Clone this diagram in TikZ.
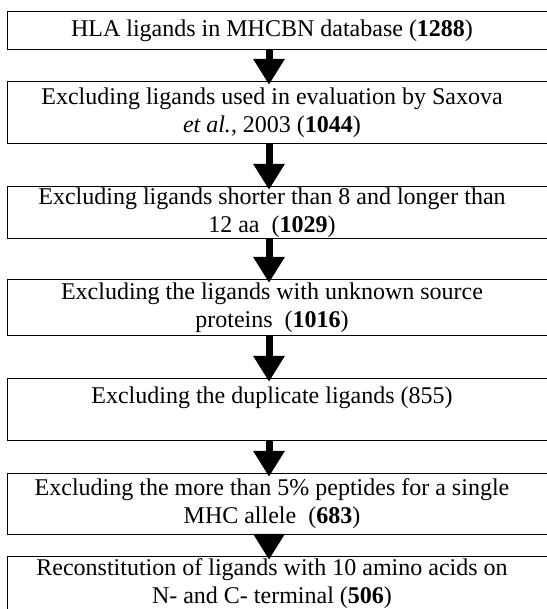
\documentclass[tikz,border=0pt]{standalone}
\usepackage{fontspec}
\setmainfont{Liberation Serif}
\usetikzlibrary{arrows.meta}

\tikzset{
	stepbox/.style={rectangle, minimum width=528pt, inner sep=0pt, align=center,
		font=\fontsize{24}{28}\selectfont},
	frame/.style={line width=1pt},
	flow/.style={line width=7pt, -{Triangle[width=30pt,length=26pt]}}
}

\begin{document}
\begin{tikzpicture}[x=1pt, y=-1pt]
		%%%%% START %%%%%
		\useasboundingbox (0, 0) rectangle (546, 609);
		
		\node[stepbox, minimum height=37pt] (s1) at (272, 30.5) {HLA ligands in MHCBN database (\textbf{1288})};
		\node[stepbox, minimum height=61pt] (s2) at (272, 112.5) {Excluding ligands used in evaluation by Saxova\\ \textit{et al.}, 2003 (\textbf{1044})};
		\node[stepbox, minimum height=51pt] (s3) at (272, 212.5) {Excluding ligands shorter than 8 and longer than\\ 12 aa~ (\textbf{1029})};
		\node[stepbox, minimum height=55pt] (s4) at (272, 307.5) {Excluding the ligands with unknown source\\ proteins~ (\textbf{1016})};
		\node[stepbox, minimum height=61pt] (s5) at (272, 409.5) {Excluding the duplicate ligands (855)\\ ~};
		\node[stepbox, minimum height=60pt] (s6) at (272, 504) {Excluding the more than 5\% peptides for a single\\ MHC allele~ (\textbf{683})};
		\node[stepbox, minimum height=54pt] (s7) at (272, 584) {Reconstitution of ligands with 10 amino acids on\\ N- and C- terminal (\textbf{506})};
		
		% frames run out past the right edge
		\foreach \i in {1,...,7}
			\draw[frame] (s\i.north west) rectangle ([xshift=20pt]s\i.south east);
		
		\foreach \i/\j in {1/2, 2/3, 3/4, 4/5, 5/6, 6/7}
			\draw[flow] ([xshift=-3pt]s\i.south) -- ([xshift=-3pt, yshift=-3pt]s\j.north);
		
		%%%%% END %%%%%
	\end{tikzpicture}
\end{document}
